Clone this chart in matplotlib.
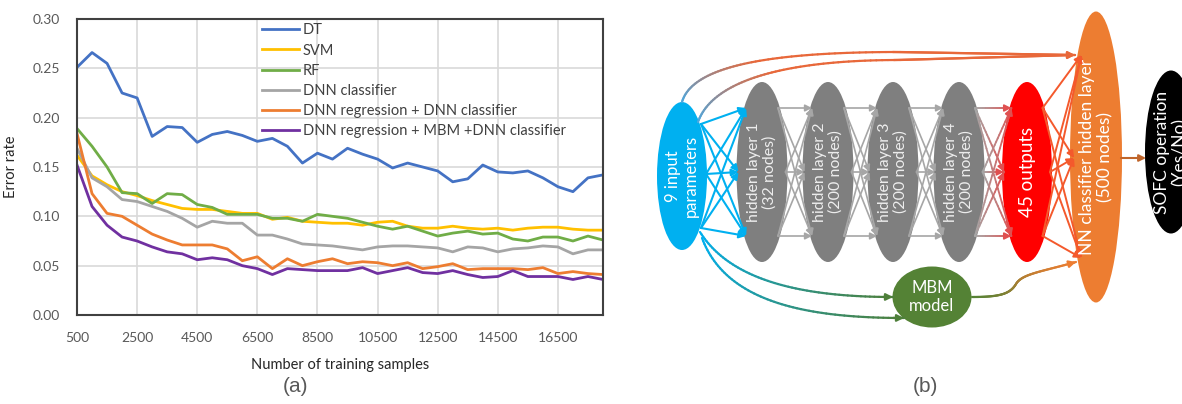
import numpy as np
import matplotlib.pyplot as plt
from matplotlib.patches import Ellipse
from matplotlib.collections import LineCollection
from matplotlib.colors import to_rgb

plt.rcParams['font.family'] = ['Lato', 'DejaVu Sans']

# ---- data for panel (a) ----
samples = list(range(500, 18001, 500))
dt = [0.251, 0.266, 0.255, 0.225, 0.220, 0.181, 0.191, 0.190, 0.175, 0.183, 0.186, 0.182,
      0.176, 0.179, 0.171, 0.154, 0.164, 0.158, 0.169, 0.163, 0.158, 0.149, 0.154, 0.150,
      0.146, 0.135, 0.138, 0.152, 0.145, 0.144, 0.146, 0.139, 0.130, 0.125, 0.139, 0.142]
svm = [0.162, 0.141, 0.132, 0.125, 0.121, 0.116, 0.112, 0.108, 0.107, 0.107, 0.105, 0.103,
       0.103, 0.097, 0.099, 0.095, 0.094, 0.093, 0.093, 0.091, 0.094, 0.095, 0.090, 0.088,
       0.088, 0.090, 0.088, 0.087, 0.088, 0.086, 0.088, 0.089, 0.089, 0.087, 0.086, 0.086]
rf = [0.189, 0.171, 0.150, 0.124, 0.123, 0.113, 0.123, 0.122, 0.112, 0.109, 0.102, 0.102,
      0.102, 0.098, 0.098, 0.095, 0.102, 0.100, 0.098, 0.094, 0.090, 0.087, 0.090, 0.085,
      0.080, 0.083, 0.085, 0.082, 0.083, 0.077, 0.075, 0.079, 0.079, 0.075, 0.080, 0.076]
dnn = [0.169, 0.139, 0.130, 0.117, 0.115, 0.110, 0.105, 0.098, 0.089, 0.095, 0.093, 0.093,
       0.081, 0.081, 0.077, 0.072, 0.071, 0.070, 0.068, 0.066, 0.069, 0.070, 0.070, 0.069,
       0.068, 0.064, 0.069, 0.068, 0.064, 0.067, 0.068, 0.070, 0.069, 0.062, 0.066, 0.066]
dnn_reg = [0.184, 0.123, 0.103, 0.100, 0.091, 0.082, 0.076, 0.071, 0.071, 0.071, 0.067, 0.055,
           0.059, 0.047, 0.057, 0.050, 0.054, 0.057, 0.052, 0.054, 0.053, 0.050, 0.053, 0.047,
           0.049, 0.052, 0.046, 0.047, 0.047, 0.047, 0.046, 0.048, 0.042, 0.044, 0.042, 0.041]
dnn_mbm = [0.152, 0.110, 0.091, 0.079, 0.075, 0.069, 0.064, 0.062, 0.056, 0.058, 0.056, 0.050,
           0.047, 0.041, 0.047, 0.046, 0.045, 0.045, 0.045, 0.048, 0.042, 0.045, 0.048, 0.043,
           0.042, 0.045, 0.041, 0.038, 0.039, 0.045, 0.039, 0.039, 0.039, 0.036, 0.039, 0.036]

series = [dt, svm, rf, dnn, dnn_reg, dnn_mbm]
labels = ["DT", "SVM", "RF", "DNN classifier", "DNN regression + DNN classifier",
          "DNN regression + MBM +DNN classifier"]
colors = ["#4472C4", "#FFC000", "#70AD47", "#A5A5A5", "#ED7D31", "#7030A0"]

xticks = list(range(500, 17000, 2000))
yticks = [0.00, 0.05, 0.10, 0.15, 0.20, 0.25, 0.30]

W, H = 1182, 404
fig = plt.figure(figsize=(W / 100, H / 100), dpi=100)

ax = fig.add_axes([77 / W, (H - 315) / H, 526 / W, 296 / H])
for vals, lab, c in zip(series, labels, colors):
    ax.plot(samples, vals, color=c, lw=2, label=lab)
ax.set_xlim(500, 18000)
ax.set_ylim(0, 0.30)
ax.set_xticks(xticks)
ax.set_yticks(yticks)
ax.set_yticklabels([f"{v:.2f}" for v in yticks])
ax.grid(True, color="#D9D9D9", lw=1.2)
ax.set_axisbelow(True)
ax.tick_params(length=0, labelsize=10, colors="#595959")
ax.tick_params(axis='x', pad=12)
ax.tick_params(axis='y', pad=12)
for s in ax.spines.values():
    s.set_color("#404040")
    s.set_linewidth(1.5)
ax.set_xlabel("Number of training samples", fontsize=10.5, color="#262626")
ax.set_ylabel("Error rate", fontsize=10.5, color="#262626")
ax.xaxis.set_label_coords(0.5, -0.145)
ax.yaxis.set_label_coords(-0.112, 0.5)
ax.legend(loc="upper left", bbox_to_anchor=(0.352, 0.985), frameon=False,
          fontsize=10.5, handlelength=2.5, handletextpad=0.3, labelspacing=0.42,
          borderpad=0, borderaxespad=0, labelcolor="#404040")

fig.text(296 / W, 1 - 386 / H, "(a)", ha="center", va="center", fontsize=15,
         color="#595959", family="Liberation Sans")
fig.text(925 / W, 1 - 386 / H, "(b)", ha="center", va="center", fontsize=15,
         color="#595959", family="Liberation Sans")

# ---- panel (b): network diagram, drawn in pixel coordinates ----
x0 = 630
bx = fig.add_axes([x0 / W, 0, (W - x0) / W, 1])
bx.set_xlim(x0, W)
bx.set_ylim(H, 0)
bx.axis("off")


def bez(p0, p1, p2, p3, n=60):
    t = np.linspace(0, 1, n)[:, None]
    p0, p1, p2, p3 = map(np.asarray, (p0, p1, p2, p3))
    return (1 - t) ** 3 * p0 + 3 * (1 - t) ** 2 * t * p1 + 3 * (1 - t) * t ** 2 * p2 + t ** 3 * p3


def grad_line(pts, c0, c1, lw=1.5, span=1.0, z=3):
    pts = np.asarray(pts, float)
    segs = np.stack([pts[:-1], pts[1:]], axis=1)
    fr = np.clip(np.arange(len(segs)) / (len(segs) * span), 0, 1)[:, None]
    cols = (1 - fr) * np.array(to_rgb(c0)) + fr * np.array(to_rgb(c1))
    bx.add_collection(LineCollection(segs, colors=cols, linewidths=lw, zorder=z,
                                     capstyle="round"))
    bx.annotate("", xy=pts[-1], xytext=pts[-3],
                arrowprops=dict(arrowstyle="-|>", color=c1, lw=lw, mutation_scale=10,
                                shrinkA=0, shrinkB=0), zorder=z)


def arrow(p, q, c, lw=1.4, z=3):
    bx.annotate("", xy=q, xytext=p,
                arrowprops=dict(arrowstyle="-|>", color=c, lw=lw, mutation_scale=10,
                                shrinkA=0, shrinkB=0), zorder=z)


def node(cx, cy, w, h, fc, text, fs=11.5, tc="white"):
    bx.add_patch(Ellipse((cx, cy), w, h, facecolor=fc, edgecolor="none", zorder=2))
    bx.text(cx, cy, text, rotation=90, ha="center", va="center", color=tc,
            fontsize=fs, linespacing=1.15, zorder=5, clip_on=True)


def edge_x(cx, cy, w, h, y, side):
    r = np.sqrt(max(0.0, 1 - ((y - cy) / (h / 2)) ** 2))
    return cx + side * (w / 2) * r - side * 2


levels = [108, 172, 236]
hidden_cx = [762, 828, 893, 959]
hidden_txt = ["hidden layer 1\n(32 nodes)", "hidden layer 2\n(200 nodes)",
              "hidden layer 3\n(200 nodes)", "hidden layer 4\n(200 nodes)"]
hw, hh, hcy = 51, 180, 172

node(682, 176, 50, 148, "#00B0F0", "9 input\nparameters", fs=12)
for cx, t in zip(hidden_cx, hidden_txt):
    node(cx, hcy, hw, hh, "#7F7F7F", t, tc="#EDEDED")
node(1027, hcy, 50, hh, "#FF0000", "45 outputs", fs=13.5)
node(1096, 157, 52, 291, "#ED7D31", "NN classifier hidden layer\n(500 nodes)", fs=12.5)
node(1171, 152, 52, 163, "#000000", "SOFC operation\n(Yes/No)", fs=12.5)
bx.add_patch(Ellipse((932, 297), 79, 61, facecolor="#548235", edgecolor="none", zorder=2))
bx.text(932, 297, "MBM\nmodel", ha="center", va="center", color="white", fontsize=12,
        linespacing=1.2, zorder=5)

# input -> hidden 1
for sy, sxx in zip([124, 174, 228], [701, 706, 701]):
    for ty in levels:
        arrow((sxx, sy), (edge_x(762, hcy, hw, hh, ty, -1), ty), "#00B0F0", lw=1.5)

# hidden -> hidden
for a, b in zip(hidden_cx[:-1], hidden_cx[1:]):
    for sy in levels:
        for ty in levels:
            arrow((edge_x(a, hcy, hw, hh, sy, 1), sy), (edge_x(b, hcy, hw, hh, ty, -1), ty),
                  "#A6A6A6", lw=1.2)

# hidden 4 -> outputs
for sy in levels:
    for ty in levels:
        p = (edge_x(959, hcy, hw, hh, sy, 1), sy)
        q = (edge_x(1027, hcy, 50, hh, ty, -1), ty)
        grad_line(np.linspace(p, q, 20), "#A6A6A6", "#E05050", lw=1.3)

# outputs -> NN classifier
for sy in levels:
    for ty in [55, 158, 258]:
        p = (edge_x(1027, hcy, 50, hh, sy, 1), sy)
        q = (edge_x(1096, 157, 52, 291, ty, -1) + 2, ty)
        arrow(p, q, "#F4592C", lw=1.4)

# NN classifier -> SOFC operation
arrow((1121, 158), (1146, 158), "#C0652A", lw=1.5)

# curved skip connections from the inputs to the NN classifier
c1 = np.vstack([bez((682, 102), (692, 68), (760, 52), (900, 52)), [[1075, 55]]])
c2 = np.vstack([bez((698, 122), (712, 82), (780, 60), (900, 60)), [[1075, 55]]])
grad_line(c1, "#4BA8E0", "#E8683A", lw=1.6, span=0.55)
grad_line(c2, "#4BA8E0", "#E8683A", lw=1.6, span=0.55)

# inputs -> MBM model
d1 = bez((700, 232), (730, 280), (800, 297), (893, 297))
d2 = bez((702, 238), (725, 300), (800, 318), (904, 318))
grad_line(d1, "#00B0F0", "#4E7F3A", lw=1.6)
grad_line(d2, "#00B0F0", "#4E7F3A", lw=1.6)

# MBM model -> NN classifier
e1 = np.vstack([bez((972, 297), (1000, 297), (1010, 294), (1016, 284)),
                bez((1016, 284), (1022, 274), (1040, 272), (1076, 262))[1:]])
grad_line(e1, "#548235", "#ED7D31", lw=1.6)

fig.savefig("out.png", dpi=100)
